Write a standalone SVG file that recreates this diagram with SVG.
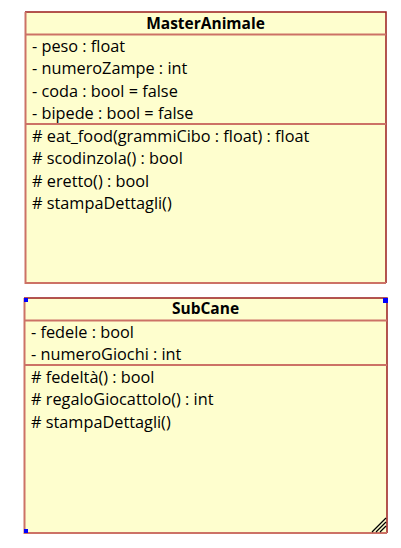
<svg xmlns="http://www.w3.org/2000/svg" width="401" height="548" viewBox="0 0 401 548">
<style>
.box{fill:#fefece}
.dk{stroke:#9b1c1c;stroke-width:1.5;fill:none}
.lt{stroke:#cc7266;stroke-width:2;fill:none}
.t{font-family:"Open Sans","Noto Sans",sans-serif;font-size:16.3px;fill:#000}
.h{font-weight:bold;font-size:15.5px;text-anchor:middle}
.hd{fill:#0000ff}
.hatch{stroke:#000;stroke-width:1.2}
</style>
<g id="MasterAnimale">
<rect class="box" x="25" y="12" width="361" height="271"/>
<path class="dk" d="M25,12 H386 V283"/>
<path class="lt" d="M25.5,12 V283 H386"/>
<line class="lt" x1="25" y1="34.5" x2="386" y2="34.5"/>
<line class="lt" x1="25" y1="124" x2="386" y2="124"/>
<text class="t h" x="205.5" y="29">MasterAnimale</text>
<text class="t" x="32" y="51.5">- peso : float</text>
<text class="t" x="32" y="74">- numeroZampe : int</text>
<text class="t" x="32" y="96.5">- coda : bool = false</text>
<text class="t" x="32" y="119">- bipede : bool = false</text>
<text class="t" x="32" y="141.5"># eat_food(grammiCibo : float) : float</text>
<text class="t" x="32" y="164"># scodinzola() : bool</text>
<text class="t" x="32" y="186.5"># eretto() : bool</text>
<text class="t" x="32" y="209"># stampaDettagli()</text>
</g>
<g id="SubCane">
<rect class="box" x="24" y="298" width="363" height="235"/>
<path class="dk" d="M24,298 H387 V533"/>
<path class="lt" d="M24.5,298 V533 H387"/>
<line class="lt" x1="24" y1="320.5" x2="387" y2="320.5"/>
<line class="lt" x1="24" y1="365" x2="387" y2="365"/>
<text class="t h" x="205.5" y="314">SubCane</text>
<text class="t" x="31" y="337.5">- fedele : bool</text>
<text class="t" x="31" y="360">- numeroGiochi : int</text>
<text class="t" x="31" y="382.5"># fedeltà() : bool</text>
<text class="t" x="31" y="405"># regaloGiocattolo() : int</text>
<text class="t" x="31" y="427.5"># stampaDettagli()</text>
<rect class="hd" x="24" y="298" width="4" height="4"/>
<rect class="hd" x="383" y="298" width="5" height="5"/>
<rect class="hd" x="24" y="529" width="4" height="4"/>
<line class="hatch" x1="372" y1="532" x2="386" y2="518"/>
<line class="hatch" x1="376" y1="532" x2="386" y2="522"/>
<line class="hatch" x1="380" y1="532" x2="386" y2="526"/>
</g>
<g id="connectors"></g>
</svg>
